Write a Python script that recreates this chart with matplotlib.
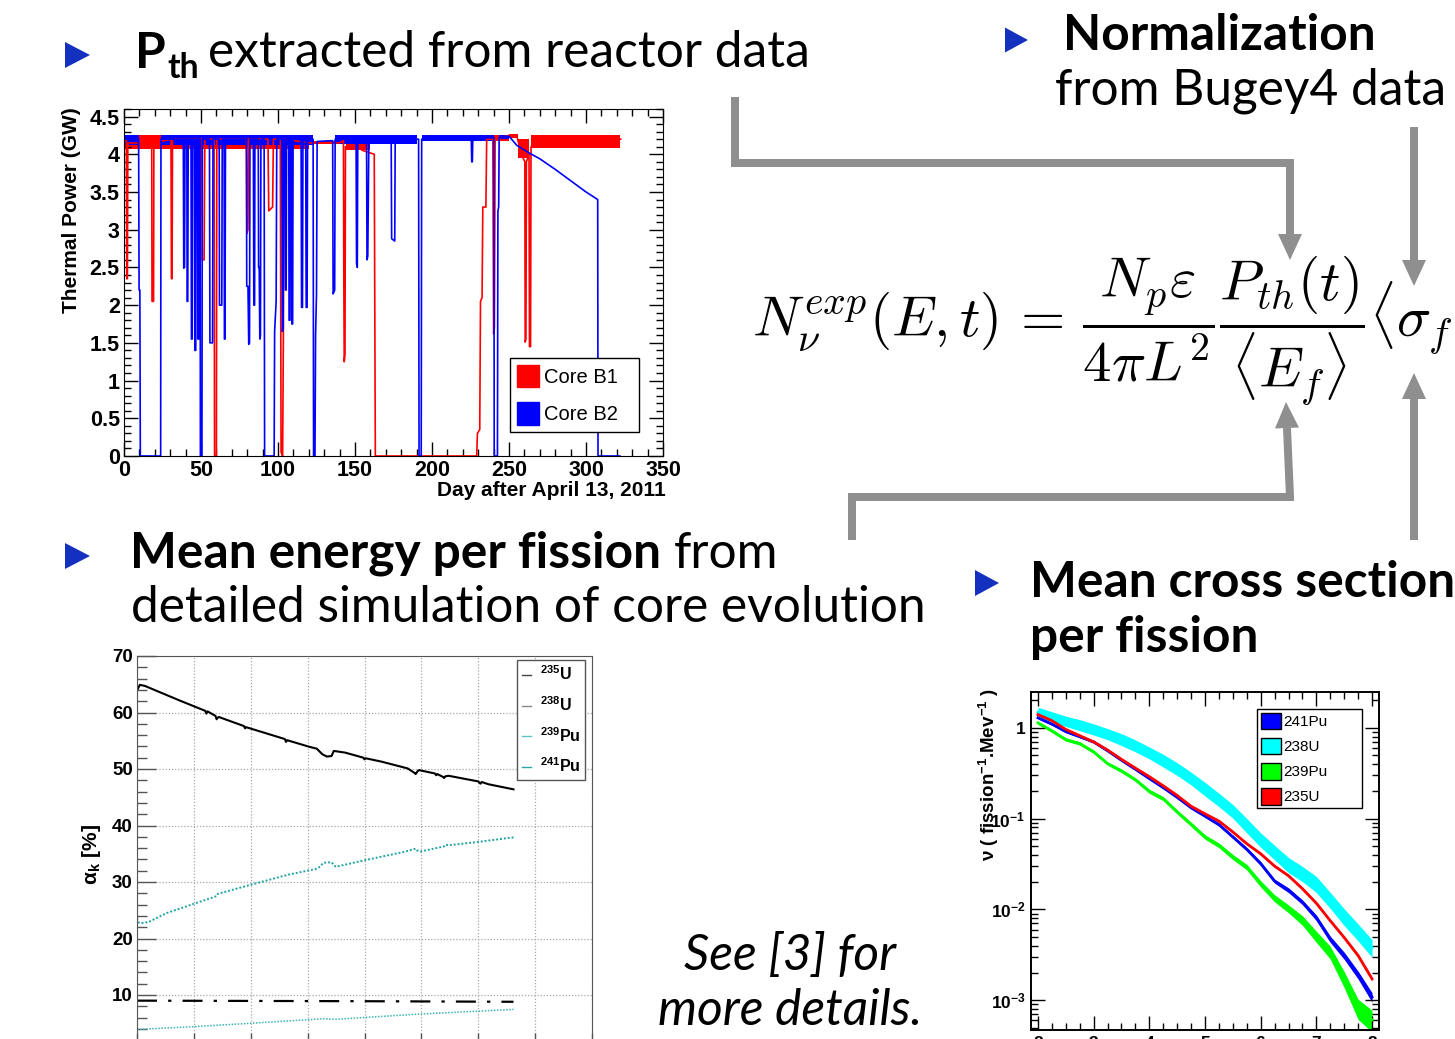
import numpy as np
import matplotlib
matplotlib.use("Agg")
import matplotlib.pyplot as plt
from matplotlib.lines import Line2D
from matplotlib.patches import Patch, Polygon
from matplotlib.text import Annotation
from matplotlib.ticker import MultipleLocator, FixedLocator, FuncFormatter, NullFormatter, LogLocator

plt.rcParams['font.family'] = ['Liberation Sans', 'DejaVu Sans']
plt.rcParams['mathtext.fontset'] = 'custom'
plt.rcParams['mathtext.rm'] = 'Liberation Sans'
plt.rcParams['mathtext.it'] = 'Liberation Sans:italic'
plt.rcParams['mathtext.bf'] = 'Liberation Sans:bold'

# ---------------- reactor thermal power (GW) vs day ----------------
b1_day = [0, 1.5, 1.8, 2.2, 2.5, 18.0, 18.2, 19.2, 19.4, 30.5, 30.8, 31.2, 31.5,
          50.5, 50.8, 52.0, 52.5, 58.5, 58.8, 60.0, 60.3, 79.5, 79.8, 80.5, 80.8,
          93.5, 94.0, 96.5, 97.0, 101.5, 102.0, 103.0, 103.5, 104.0, 121.0, 140.0,
          142.5, 142.7, 143.0, 143.5, 143.8, 150.0, 155.0, 162.5, 163.2,
          229.0, 229.5, 231.0, 231.5, 232.5, 233.0, 235.0, 235.5,
          239.5, 240.0, 240.5, 241.0, 250.0, 255.0, 258.0,
          260.3, 260.5, 261.0, 261.3, 263.0, 263.3, 264.0, 264.3, 270.0, 322.5]
b1_gw = [4.20, 4.18, 2.35, 2.35, 4.15, 4.15, 2.05, 2.05, 4.15, 4.20, 2.35, 2.35, 4.20,
         4.20, 2.60, 2.60, 4.20, 4.20, 0.00, 0.00, 4.20, 4.20, 2.95, 3.00, 4.20,
         4.20, 3.25, 3.30, 4.20, 4.20, 0.05, 0.00, 1.60, 4.20, 4.15, 4.15,
         4.18, 2.55, 1.25, 1.35, 4.10, 4.12, 4.05, 4.00, 0.00,
         0.00, 0.30, 0.35, 2.05, 2.10, 3.30, 3.30, 4.20,
         4.20, 1.62, 1.70, 4.20, 4.25, 4.25, 4.00,
         3.90, 1.51, 1.55, 3.90, 4.00, 1.45, 1.45, 4.10, 4.20, 4.20]

b2_day = [0, 9.5, 9.8, 10.3, 10.6, 23.8, 24.0,
          38.5, 38.8, 39.3, 39.6, 40.8, 41.0, 41.4, 41.7,
          43.5, 43.8, 44.3, 44.6, 45.8, 46.0, 46.6, 46.9,
          47.8, 48.0, 48.5, 48.8, 49.4, 49.6, 50.6, 50.9,
          55.5, 55.8, 57.5, 57.8, 61.8, 62.0, 63.5, 63.8,
          65.0, 65.2, 65.6, 65.9, 79.5, 79.7, 80.5, 81.0, 81.5, 81.8,
          84.0, 84.3, 84.8, 85.0, 87.2, 87.4, 87.8, 88.2, 88.6, 88.9,
          91.0, 91.3, 97.5, 97.8, 98.8, 99.2, 102.5, 102.8, 103.3, 103.6,
          104.5, 104.8, 105.3, 105.6, 107.0, 107.2, 107.8, 108.0,
          108.8, 109.0, 109.5, 109.8, 115.0, 115.3, 115.9, 116.2,
          118.0, 118.3, 118.9, 119.2, 122.8, 123.1, 124.0, 124.4, 125.0, 125.4,
          135.5, 135.8, 136.8, 137.1, 150.7, 151.0, 151.5, 151.8,
          157.5, 157.8, 158.3, 158.6, 159.0, 173.5, 173.8, 175.8, 176.1,
          191.3, 191.6, 193.0, 193.3, 225.5, 225.8, 226.2, 226.5,
          240.2, 240.4, 242.5, 242.8, 243.3, 243.6,
          250.0, 255.0, 262.0, 270.0, 280.0, 290.0, 300.0, 306.0, 307.6, 307.8, 322.0]
b2_gw = [4.20, 4.20, 2.20, 2.20, 0.00, 0.00, 4.20,
         4.20, 2.49, 2.50, 4.20, 4.20, 2.05, 2.05, 4.20,
         4.20, 1.55, 1.55, 4.20, 4.20, 1.40, 1.40, 4.20,
         4.20, 1.55, 1.55, 4.20, 4.20, 0.00, 0.00, 4.20,
         4.20, 1.50, 1.50, 4.20, 4.20, 2.00, 2.00, 4.20,
         4.20, 1.55, 1.55, 4.20, 4.20, 2.25, 2.25, 1.48, 1.50, 4.20,
         4.20, 2.00, 2.00, 4.20, 4.20, 2.50, 2.50, 1.55, 1.60, 4.20,
         4.20, 0.00, 0.00, 1.65, 2.05, 4.20, 4.20, 1.65, 1.70, 4.20,
         4.20, 2.20, 2.20, 4.20, 4.20, 1.80, 1.80, 4.20,
         4.20, 1.75, 1.75, 4.20, 4.20, 1.97, 1.97, 4.20,
         4.20, 1.97, 1.97, 4.20, 4.20, 0.00, 0.00, 1.60, 2.15, 4.17,
         4.18, 2.15, 2.20, 4.20, 4.20, 2.55, 2.50, 4.20,
         4.20, 2.60, 2.65, 3.35, 4.20, 4.20, 2.88, 2.85, 4.20,
         4.20, 0.00, 0.00, 4.20, 4.22, 3.90, 3.90, 4.22,
         4.22, 0.00, 0.00, 3.25, 3.30, 4.22,
         4.24, 4.12, 4.03, 3.94, 3.80, 3.65, 3.50, 3.42, 3.40, 0.00, 0.00]

# spread of the daily fluctuations at full power (start day, end day, low, high)
b1_band_start = [0, 121, 144, 236, 250, 256, 264]
b1_band_end = [120, 142, 160, 250, 256, 263, 322]
b1_band_lo = [4.07, 4.13, 4.05, 4.18, 4.22, 3.95, 4.08]
b1_band_hi = [4.25, 4.18, 4.15, 4.25, 4.27, 4.20, 4.25]
b2_band_start = [0, 24, 137, 193.5, 243.6]
b2_band_end = [9.5, 123, 190, 240, 250]
b2_band_lo = [4.12, 4.12, 4.13, 4.17, 4.20]
b2_band_hi = [4.26, 4.26, 4.26, 4.26, 4.26]

# ---------------- fission fractions (%) vs day ----------------
u235_day = [0, 2.5, 7, 20, 39, 55, 60, 61, 62, 69, 70, 71, 72, 94, 95, 96, 130, 131, 132,
            152, 158, 163, 167, 171, 173, 183, 199, 200, 201, 215, 238, 244, 245, 247, 248,
            262, 263, 264, 269, 270, 271, 274, 300, 302, 303, 309, 331]
u235_frac = [63.9, 64.9, 64.7, 63.6, 62.0, 60.7, 60.3, 59.8, 60.2, 59.4, 58.8, 59.1, 59.2,
             57.6, 57.2, 57.4, 55.3, 54.8, 55.1, 53.9, 53.6, 52.6, 52.2, 52.3, 53.2, 52.9,
             52.0, 51.7, 51.9, 51.3, 50.1, 49.3, 49.1, 49.7, 49.8, 49.2, 48.9, 49.1, 48.6,
             48.4, 48.7, 48.8, 47.8, 47.4, 47.7, 47.3, 46.4]
u238_day = [0, 100, 200, 331]
u238_frac = [9.0, 8.95, 8.9, 8.8]
pu239_day = [0, 1, 3, 10, 26, 48, 70, 71, 98, 133, 157, 160, 164, 171, 174, 175, 199, 234,
             245, 246, 249, 270, 271, 274, 300, 331]
pu239_frac = [23.6, 22.9, 22.7, 22.9, 24.5, 26.0, 27.5, 27.9, 29.4, 31.3, 32.3, 32.6, 33.4,
              33.5, 32.8, 32.7, 33.8, 35.3, 35.9, 35.6, 35.4, 36.3, 36.6, 36.5, 37.1, 37.9]
pu241_day = [0, 50, 100, 164, 175, 246, 331]
pu241_frac = [3.9, 4.4, 5.0, 5.8, 5.7, 6.6, 7.45]

# ---------------- antineutrino spectra per fission ----------------
energy = [2.0, 2.25, 2.5, 2.75, 3.0, 3.25, 3.5, 3.75, 4.0, 4.25, 4.5, 4.75, 5.0,
          5.25, 5.5, 5.75, 6.0, 6.25, 6.5, 6.75, 7.0, 7.25, 7.5, 7.75, 8.0]
nu_u238 = [1.49, 1.33, 1.19, 1.08, 0.97, 0.86, 0.75, 0.64, 0.535, 0.44, 0.356, 0.28, 0.214,
           0.163, 0.122, 0.085, 0.059, 0.043, 0.0313, 0.025, 0.0192, 0.0128, 0.0084, 0.0057, 0.0038]
err_u238 = [0.13, 0.13, 0.13, 0.14, 0.14, 0.14, 0.15, 0.15, 0.15, 0.16, 0.16, 0.16, 0.17,
            0.17, 0.17, 0.18, 0.18, 0.18, 0.19, 0.19, 0.20, 0.20, 0.21, 0.21, 0.22]
nu_pu239 = [1.135, 0.927, 0.743, 0.672, 0.544, 0.404, 0.336, 0.269, 0.20, 0.166, 0.1186, 0.0866,
            0.0628, 0.0508, 0.0378, 0.0293, 0.0192, 0.0133, 0.0102, 0.0076, 0.00504, 0.00338,
            0.00172, 0.00082, 0.00061]
err_pu239 = [0.04, 0.04, 0.04, 0.04, 0.04, 0.04, 0.045, 0.045, 0.05, 0.05, 0.05, 0.055, 0.055,
             0.06, 0.065, 0.07, 0.08, 0.09, 0.10, 0.12, 0.14, 0.16, 0.20, 0.25, 0.27]
nu_pu241 = [1.29, 1.10, 0.91, 0.80, 0.70, 0.56, 0.44, 0.35, 0.277, 0.22, 0.172, 0.132, 0.107,
            0.086, 0.063, 0.046, 0.032, 0.0205, 0.0163, 0.012, 0.0081, 0.0047, 0.0031, 0.0019, 0.00108]
err_pu241 = [0.03, 0.03, 0.03, 0.03, 0.03, 0.03, 0.03, 0.03, 0.035, 0.035, 0.035, 0.035, 0.04,
             0.04, 0.04, 0.045, 0.05, 0.05, 0.06, 0.06, 0.07, 0.08, 0.09, 0.10, 0.12]
nu_u235 = [1.40, 1.20, 0.96, 0.82, 0.70, 0.57, 0.45, 0.36, 0.29, 0.23, 0.18, 0.137, 0.113,
           0.094, 0.0713, 0.053, 0.041, 0.030, 0.0235, 0.0169, 0.0117, 0.0075, 0.0049, 0.0031, 0.00172]
err_u235 = [0.02, 0.02, 0.02, 0.02, 0.02, 0.02, 0.02, 0.02, 0.02, 0.02, 0.02, 0.02, 0.025,
            0.025, 0.025, 0.025, 0.03, 0.03, 0.03, 0.03, 0.035, 0.035, 0.04, 0.045, 0.05]

W, H = 1455, 1039
fig = plt.figure(figsize=(W / 100, H / 100), dpi=100)
fig.patch.set_facecolor('white')


def fx(px):
    return px / W


def fy(py):
    return 1 - py / H


def axes_px(left, top, right, bottom):
    return fig.add_axes([fx(left), fy(bottom), (right - left) / W, (bottom - top) / H])


def bold_ticks(ax):
    for lab in ax.get_xticklabels() + ax.get_yticklabels():
        lab.set_fontweight('bold')


gfmt = FuncFormatter(lambda v, p: '%g' % v)

# ======== thermal power panel ========
ax1 = axes_px(124, 109, 663, 456)
ax1.set_xlim(0, 350)
ax1.set_ylim(0, 4.6)
for s, e, lo, hi in zip(b1_band_start, b1_band_end, b1_band_lo, b1_band_hi):
    ax1.fill_between([s, e], [lo, lo], [hi, hi], color='#ff0000', lw=0)
ax1.plot(b1_day, b1_gw, color='#ff0000', lw=1.2)
for s, e, lo, hi in zip(b2_band_start, b2_band_end, b2_band_lo, b2_band_hi):
    ax1.fill_between([s, e], [lo, lo], [hi, hi], color='#0000ff', lw=0)
ax1.plot(b2_day, b2_gw, color='#0000ff', lw=1.2)
ax1.xaxis.set_major_locator(MultipleLocator(50))
ax1.xaxis.set_minor_locator(MultipleLocator(10))
ax1.yaxis.set_major_locator(MultipleLocator(0.5))
ax1.yaxis.set_minor_locator(MultipleLocator(0.1))
ax1.xaxis.set_major_formatter(gfmt)
ax1.yaxis.set_major_formatter(gfmt)
ax1.tick_params(which='both', direction='in', top=True, right=True, width=1)
ax1.tick_params(which='major', length=10, labelsize=15.5, pad=3)
ax1.tick_params(which='minor', length=5)
bold_ticks(ax1)
ax1.text(-0.097, 1.005, 'Thermal Power (GW)', transform=ax1.transAxes, rotation=90,
         ha='center', va='top', fontsize=15, fontweight='bold')
ax1.text(1.006, -0.1, 'Day after April 13, 2011', transform=ax1.transAxes,
         ha='right', va='center', fontsize=15, fontweight='bold')
leg1 = ax1.legend(handles=[Patch(facecolor='#ff0000', edgecolor='#ff0000', label='Core B1'),
                           Patch(facecolor='#0000ff', edgecolor='#0000ff', label='Core B2')],
                  loc='lower left', bbox_to_anchor=(0.716, 0.069, 0.24, 0.2), mode='expand',
                  fontsize=14.5, handlelength=1.1, handleheight=1.35, handletextpad=0.25,
                  labelspacing=0.75, borderpad=0.35, borderaxespad=0, fancybox=False,
                  framealpha=1, edgecolor='black')
leg1.get_frame().set_linewidth(1.0)

# ======== fission fraction panel ========
ax2 = axes_px(137, 656, 592, 1051.5)
ax2.set_xlim(0, 400)
ax2.set_ylim(0, 70)
ax2.xaxis.set_major_locator(MultipleLocator(50))
ax2.yaxis.set_major_locator(MultipleLocator(10))
ax2.yaxis.set_minor_locator(MultipleLocator(2))
ax2.grid(True, which='major', ls=(0, (1, 1.5)), color='#a8a8a8', lw=0.9)
ax2.plot(u235_day, u235_frac, color='black', lw=1.5)
ax2.plot(u238_day, u238_frac, color='black', lw=1.6, ls=(0, (9, 5, 1.5, 5)))
ax2.plot(pu239_day, pu239_frac, color='#21a3a3', lw=1.4, ls=(0, (1, 1)))
ax2.plot(pu241_day, pu241_frac, color='#3cb4b4', lw=1.1, ls=(0, (1, 1)))
ax2.tick_params(which='both', direction='in', top=False, right=False, width=1, color='#555555')
ax2.tick_params(which='major', length=14, labelsize=13.5, pad=3)
ax2.tick_params(which='minor', length=7)
ax2.yaxis.set_major_formatter(gfmt)
bold_ticks(ax2)
for sp in ax2.spines.values():
    sp.set_color('#555555')
ax2.text(-0.1, 0.497, r'α$_{\mathbf{k}}$ [%]', transform=ax2.transAxes, rotation=90,
         ha='center', va='center', fontsize=15, fontweight='bold')
leg2 = ax2.legend(handles=[Line2D([], [], color='#444444', lw=1, label=r'$^{\mathbf{235}}$U'),
                           Line2D([], [], color='#888888', lw=1, label=r'$^{\mathbf{238}}$U'),
                           Line2D([], [], color='#5cc2c2', lw=1, label=r'$^{\mathbf{239}}$Pu'),
                           Line2D([], [], color='#2aa6a6', lw=1, label=r'$^{\mathbf{241}}$Pu')],
                  loc='upper right', bbox_to_anchor=(0.985, 0.99),
                  prop={'weight': 'bold', 'size': 11.5},
                  handlelength=0.55, handletextpad=0.55, labelspacing=0.75, borderpad=0.3,
                  borderaxespad=0, fancybox=False, framealpha=1, edgecolor='#555555')
leg2.get_frame().set_linewidth(1.0)

# ======== antineutrino spectrum panel ========
ax3 = axes_px(1031, 691.7, 1379, 1030)
ax3.set_xlim(1.875, 8.125)
ax3.set_yscale('log')
ax3.set_ylim(4.7e-4, 2.5)
spectra = [(nu_u238, err_u238, '#00ffff'), (nu_pu239, err_pu239, '#00ff00'),
           (nu_pu241, err_pu241, '#0000ff'), (nu_u235, err_u235, '#ff0000')]
for vals, errs, col in spectra:
    v = np.array(vals)
    e = np.array(errs)
    ax3.fill_between(energy, v * (1 - e), v * (1 + e), color=col, lw=0)
    ax3.plot(energy, v, color=col, lw=2.0)
ax3.xaxis.set_major_locator(MultipleLocator(1))
ax3.xaxis.set_minor_locator(MultipleLocator(0.25))
ax3.xaxis.set_major_formatter(gfmt)
ax3.yaxis.set_major_locator(FixedLocator([1e-3, 1e-2, 1e-1, 1]))
ax3.yaxis.set_major_formatter(FuncFormatter(
    lambda v, p: '1' if v == 1 else r'10$^{\mathbf{%d}}$' % round(np.log10(v))))
ax3.yaxis.set_minor_locator(LogLocator(base=10, subs=np.arange(2, 10)))
ax3.yaxis.set_minor_formatter(NullFormatter())
ax3.tick_params(which='both', direction='in', top=True, right=True, width=1)
ax3.tick_params(which='major', length=10, labelsize=12.5, pad=4)
ax3.tick_params(which='minor', length=5)
bold_ticks(ax3)
for sp in ax3.spines.values():
    sp.set_linewidth(1.4)
ax3.text(-0.12, 1.01, r'ν ( fission$^{\mathbf{-1}}$.Mev$^{\mathbf{-1}}$ )', transform=ax3.transAxes,
         rotation=90, ha='center', va='top', fontsize=13.5, fontweight='bold')
leg3 = ax3.legend(handles=[Patch(facecolor='#0000ff', edgecolor='black', label='241Pu'),
                           Patch(facecolor='#00ffff', edgecolor='black', label='238U'),
                           Patch(facecolor='#00ff00', edgecolor='black', label='239Pu'),
                           Patch(facecolor='#ff0000', edgecolor='black', label='235U')],
                  loc='upper left', bbox_to_anchor=(0.649, 0.949, 0.302, 0.0), mode='expand',
                  fontsize=11, handlelength=1.3, handleheight=1.3, handletextpad=0.15,
                  labelspacing=0.55, borderpad=0.25, borderaxespad=0, fancybox=False,
                  framealpha=1, edgecolor='black')
leg3.get_frame().set_linewidth(1.0)

# ======== slide text ========
SLIDE = 'Lato'
TS = 35.7
blue_tri = '#1430be'


def bullet(x, y, w=25, h=26):
    tri = [(x, y - h / 2), (x, y + h / 2), (x + w, y)]
    fig.add_artist(Polygon([(fx(a), fy(b)) for a, b in tri], closed=True,
                           transform=fig.transFigure, color=blue_tri, lw=0))


def follow(prev, first, txt, gap, **kw):
    a = Annotation(txt, xy=(1, 0), xycoords=(prev, first), xytext=(gap, 0),
                   textcoords='offset points', ha='left', va='bottom', fontsize=TS,
                   family=SLIDE, **kw)
    fig.add_artist(a)
    return a


def line(x, baseline, txt, **kw):
    return fig.text(fx(x), fy(baseline), txt, fontsize=TS, family=SLIDE, va='baseline', **kw)


bullet(65, 55)
tP = line(135, 68, 'P', fontweight='bold')
tth = Annotation('th', xy=(1, 0), xycoords=tP, xytext=(1, -6), textcoords='offset points',
                 ha='left', va='bottom', fontsize=TS * 0.68, family=SLIDE, fontweight='bold')
fig.add_artist(tth)
follow(tth, tP, 'extracted from reactor data', 7)

bullet(1005, 40, 23, 25)
line(1063, 50, 'Normalization', fontweight='bold')
line(1055, 105, 'from Bugey4 data')

bullet(65, 556)
tM = line(130, 568, 'Mean energy per fission', fontweight='bold')
follow(tM, tM, 'from', 9)
line(131, 622, 'detailed simulation of core evolution')

bullet(975, 583, 24, 26)
line(1030, 597, 'Mean cross section', fontweight='bold')
line(1030, 652, 'per fission', fontweight='bold')

line(790, 970, 'See [3] for', fontstyle='italic', ha='center')
line(790, 1025, 'more details.', fontstyle='italic', ha='center')

# rate formula
fig.text(fx(752), fy(331),
         r'$N_{\nu}^{exp}(E,t)\,=\,\dfrac{N_p\varepsilon}{4\pi L^2}\dfrac{P_{th}(t)}{\langle E_f\rangle}\langle\sigma_f\rangle$',
         fontsize=41, math_fontfamily='cm', ha='left', va='center')

# grey connectors
grey = '#8f8f8f'


def connector(pts, tip, lw_px=8, head_len=26, head_w=24):
    fig.add_artist(Line2D([fx(p[0]) for p in pts], [fy(p[1]) for p in pts],
                          transform=fig.transFigure, lw=lw_px * 0.72, color=grey,
                          solid_joinstyle='miter', solid_capstyle='butt'))
    bx, by = pts[-1]
    dx, dy = tip[0] - bx, tip[1] - by
    L = np.hypot(dx, dy)
    nx, ny = -dy / L, dx / L
    tri = [tip, (bx + nx * head_w / 2, by + ny * head_w / 2), (bx - nx * head_w / 2, by - ny * head_w / 2)]
    fig.add_artist(Polygon([(fx(a), fy(b)) for a, b in tri], closed=True,
                           transform=fig.transFigure, color=grey, lw=0))


connector([(735, 97), (735, 163), (1290, 163), (1290, 234)], (1290, 260))
connector([(1414, 127), (1414, 260)], (1414, 286))
connector([(852, 540), (852, 497), (1290, 497), (1287, 428)], (1286, 402))
connector([(1414, 540), (1414, 399)], (1414, 373))

fig.savefig('out.png', dpi=100)
